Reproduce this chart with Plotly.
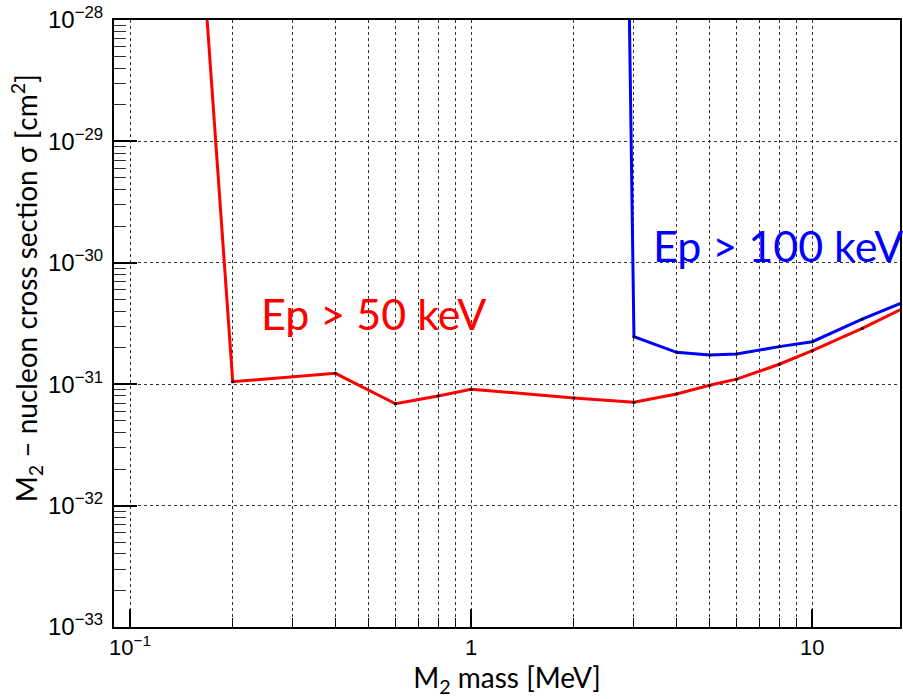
import plotly.graph_objects as go

# M2 mass [MeV] and cross-section limits for two proton-energy thresholds
mass_50 = [0.15, 0.2, 0.4, 0.6, 0.8, 1, 2, 3, 4, 5, 6, 8, 10, 14, 20]
sigma_50 = [9.5e-27, 1.05e-31, 1.23e-31, 6.9e-32, 8.0e-32, 9.1e-32, 7.7e-32,
            7.1e-32, 8.3e-32, 9.8e-32, 1.10e-31, 1.46e-31, 1.89e-31, 2.88e-31, 4.7e-31]

mass_100 = [2.9, 3, 4, 5, 6, 8, 10, 14, 20]
sigma_100 = [2.0e-28, 2.46e-31, 1.83e-31, 1.74e-31, 1.77e-31, 2.04e-31, 2.24e-31,
             3.43e-31, 5.2e-31]

x_tickvals = [0.1, 1, 10]
x_ticktext = ["10<sup>\u22121</sup>", "1", "10"]
y_tickvals = [1e-33, 1e-32, 1e-31, 1e-30, 1e-29, 1e-28]
y_ticktext = ["10<sup>\u221233</sup>", "10<sup>\u221232</sup>", "10<sup>\u221231</sup>",
              "10<sup>\u221230</sup>", "10<sup>\u221229</sup>", "10<sup>\u221228</sup>"]

fig = go.Figure()
fig.add_trace(go.Scatter(
    x=mass_50, y=sigma_50, mode="lines+markers",
    line=dict(color="#ff0000", width=3),
    marker=dict(color="black", size=3),
    cliponaxis=True, showlegend=False))
fig.add_trace(go.Scatter(
    x=mass_100, y=sigma_100, mode="lines+markers",
    line=dict(color="#0000ff", width=3),
    marker=dict(color="black", size=3),
    cliponaxis=True, showlegend=False))

fig.add_annotation(x=-0.285, y=-30.42, xref="x", yref="y", text="Ep > 50 keV",
                   showarrow=False, font=dict(family="Lato", size=43, color="#ff0000"))
fig.add_annotation(x=0.9, y=-29.86, xref="x", yref="y", text="Ep > 100 keV",
                   showarrow=False, font=dict(family="Lato", size=43, color="#0000ff"))

# y-axis title, placed a little above the plot's vertical centre
fig.add_annotation(x=-0.1104, y=0.5585, xref="paper", yref="paper",
                   xanchor="center", yanchor="middle",
                   text="M<sub>2</sub> \u2013 nucleon cross section \u03c3 [cm<sup>2</sup>]",
                   textangle=-90, showarrow=False,
                   font=dict(family="Lato", size=28, color="black"))

grid = dict(showgrid=True, gridcolor="#333333", griddash="dot", gridwidth=1)

fig.update_xaxes(
    type="log", range=[-1.047, 1.257],
    tickmode="array", tickvals=x_tickvals, ticktext=x_ticktext,
    ticks="inside", ticklen=18, tickwidth=1.5, tickcolor="black",
    tickfont=dict(family="Liberation Sans", size=22, color="black"), ticklabelstandoff=0,
    minor=dict(ticks="inside", ticklen=9, tickwidth=1, tickcolor="black",
               dtick="D1", showgrid=True, gridcolor="#333333", griddash="dot", gridwidth=1),
    showline=True, linecolor="black", linewidth=2, mirror=True,
    title=dict(text="M<sub>2</sub> mass [MeV]", font=dict(family="Lato", size=28, color="black"),
               standoff=8),
    zeroline=False, **grid)

fig.update_yaxes(
    type="log", range=[-33, -28],
    tickmode="array", tickvals=y_tickvals, ticktext=y_ticktext,
    ticks="inside", ticklen=23, tickwidth=1.5, tickcolor="black",
    tickfont=dict(family="Liberation Sans", size=24, color="black"), ticklabelstandoff=4,
    minor=dict(ticks="inside", ticklen=12, tickwidth=1, tickcolor="#333333",
               dtick="D1", showgrid=False),
    showline=True, linecolor="black", linewidth=2, mirror=True,
    zeroline=False, **grid)

fig.update_layout(
    width=903, height=699,
    margin=dict(l=114, r=1, t=20, b=72),
    plot_bgcolor="white", paper_bgcolor="white",
    showlegend=False)

fig.write_html("out.html")
